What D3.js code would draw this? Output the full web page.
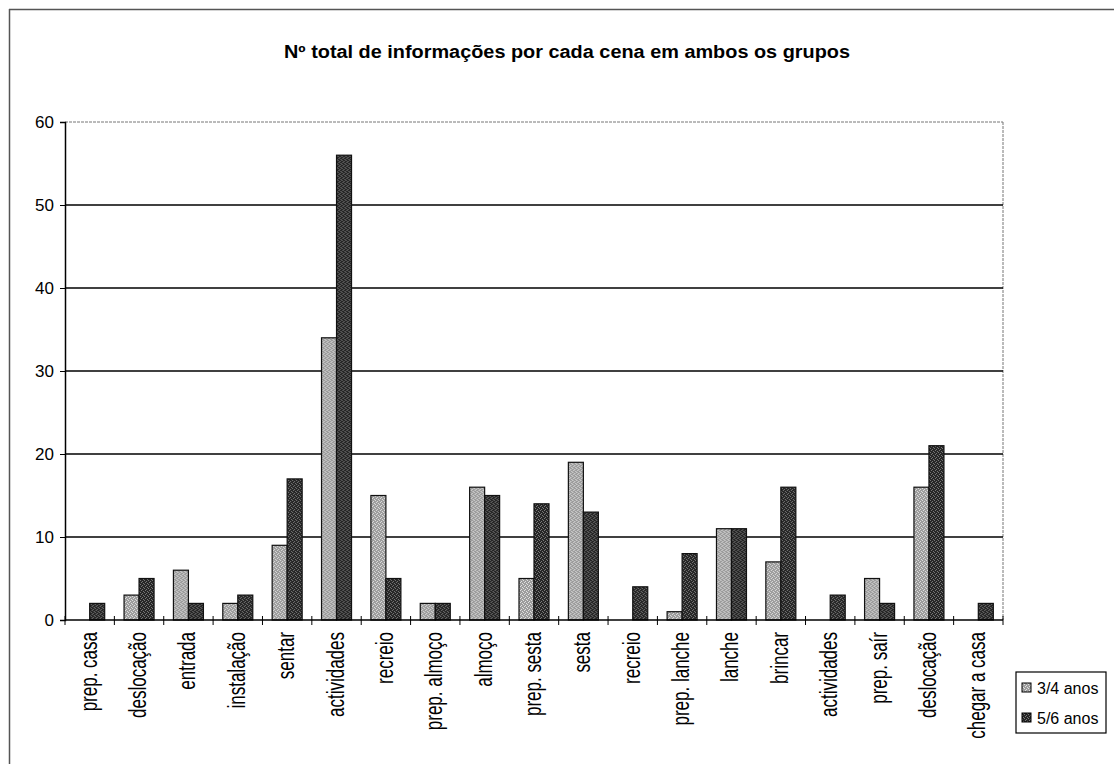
<!DOCTYPE html>
<html lang="pt">
<head>
<meta charset="UTF-8">
<title>Nº total de informações por cada cena</title>
<script src="https://d3js.org/d3.v7.min.js"></script>
<style>
  body { margin: 0; padding: 0; background: #fff; }
  svg { display: block; font-family: "Liberation Sans", Arial, sans-serif; }
</style>
</head>
<body>
<div id="chart"></div>
<script>
// Dados
const cenas = ["prep. casa", "deslocação", "entrada", "instalação", "sentar", "actividades",
  "recreio", "prep. almoço", "almoço", "prep. sesta", "sesta", "recreio", "prep. lanche",
  "lanche", "brincar", "actividades", "prep. saír", "deslocação", "chegar a casa"];
const grupos = ["3/4 anos", "5/6 anos"];
const valores34 = [0, 3, 6, 2, 9, 34, 15, 2, 16, 5, 19, 0, 1, 11, 7, 0, 5, 16, 0];
const valores56 = [2, 5, 2, 3, 17, 56, 5, 2, 15, 14, 13, 4, 8, 11, 16, 3, 2, 21, 2];
const yTicks = [0, 10, 20, 30, 40, 50, 60];

const width = 1114, height = 764;
const plot = { left: 65, right: 1003, top: 122, bottom: 620 };

const svg = d3.select("#chart").append("svg")
  .attr("width", width)
  .attr("height", height);

// Padrões pontilhados (imitam o tracejado do Excel)
const defs = svg.append("defs");
function stipple(id, bg, dot) {
  const p = defs.append("pattern")
    .attr("id", id)
    .attr("width", 4).attr("height", 4)
    .attr("patternUnits", "userSpaceOnUse");
  p.append("rect").attr("width", 4).attr("height", 4).attr("fill", bg);
  [[0, 0], [2, 1], [1, 2], [3, 3]].forEach(([x, y]) => {
    p.append("rect").attr("x", x).attr("y", y).attr("width", 1).attr("height", 1).attr("fill", dot);
  });
}
stipple("pat34", "#9c9c9c", "#e0e0e0");
stipple("pat56", "#262626", "#7a7a7a");

// Moldura exterior (só topo e esquerda visíveis)
svg.append("line").attr("x1", 9).attr("x2", width).attr("y1", 9.5).attr("y2", 9.5)
  .attr("stroke", "#555").attr("stroke-width", 1.5);
svg.append("line").attr("x1", 9.5).attr("x2", 9.5).attr("y1", 9).attr("y2", height)
  .attr("stroke", "#555").attr("stroke-width", 1.5);

// Título
svg.append("text")
  .attr("x", 567).attr("y", 58)
  .attr("text-anchor", "middle")
  .attr("font-size", "18px")
  .attr("font-weight", "bold")
  .attr("textLength", 566)
  .attr("lengthAdjust", "spacingAndGlyphs")
  .text("Nº total de informações por cada cena em ambos os grupos");

// Escalas
const x = d3.scaleBand()
  .domain(d3.range(cenas.length))
  .range([plot.left, plot.right]);
const x1 = d3.scaleBand()
  .domain(grupos)
  .range([0, 30])
  .padding(0);
const y = d3.scaleLinear()
  .domain([0, 60])
  .range([plot.bottom, plot.top]);

// Borda da área do gráfico (topo e direita, pontilhada)
svg.append("line").attr("x1", plot.left).attr("x2", plot.right)
  .attr("y1", plot.top).attr("y2", plot.top)
  .attr("stroke", "#777").attr("stroke-dasharray", "3,1");
svg.append("line").attr("x1", plot.right).attr("x2", plot.right)
  .attr("y1", plot.top).attr("y2", plot.bottom)
  .attr("stroke", "#777").attr("stroke-dasharray", "3,1");

// Linhas de grelha
svg.append("g")
  .selectAll("line")
  .data(yTicks.filter(d => d > 0 && d < 60))
  .enter()
  .append("line")
  .attr("x1", plot.left).attr("x2", plot.right)
  .attr("y1", d => y(d)).attr("y2", d => y(d))
  .attr("stroke", "#000").attr("stroke-width", 1.5);

// Eixo Y
const yAxis = svg.append("g")
  .attr("transform", `translate(${plot.left},0)`)
  .call(d3.axisLeft(y).tickValues(yTicks).tickSize(5).tickPadding(6));
yAxis.select(".domain").attr("stroke", "#000").attr("stroke-width", 1.5);
yAxis.selectAll(".tick line").attr("stroke", "#000");
yAxis.selectAll("text").attr("font-size", "17px").attr("fill", "#000")
  .attr("font-family", "'Liberation Sans', Arial, sans-serif");

// Barras
const dados = cenas.map((c, i) => ({ i, v: [valores34[i], valores56[i]] }));
const grp = svg.append("g")
  .selectAll("g")
  .data(dados)
  .enter()
  .append("g")
  .attr("transform", d => `translate(${x(d.i) + (x.bandwidth() - 30) / 2},0)`);

grp.selectAll("rect")
  .data(d => d.v.map((v, k) => ({ g: grupos[k], v })))
  .enter()
  .filter(d => d.v > 0)
  .append("rect")
  .attr("x", d => x1(d.g))
  .attr("y", d => y(d.v))
  .attr("width", x1.bandwidth())
  .attr("height", d => y(0) - y(d.v))
  .attr("fill", d => d.g === grupos[0] ? "url(#pat34)" : "url(#pat56)")
  .attr("stroke", "#111")
  .attr("stroke-width", 1.2);

// Eixo X
const xAxis = svg.append("g")
  .attr("transform", `translate(0,${plot.bottom})`);
xAxis.append("line")
  .attr("x1", plot.left).attr("x2", plot.right)
  .attr("stroke", "#000").attr("stroke-width", 1.5);
xAxis.selectAll("line.tk")
  .data(d3.range(cenas.length + 1))
  .enter()
  .append("line")
  .attr("class", "tk")
  .attr("x1", d => plot.left + d * x.step())
  .attr("x2", d => plot.left + d * x.step())
  .attr("y1", -4).attr("y2", 5)
  .attr("stroke", "#000");

// Rótulos das categorias (verticais, letra alta e estreita como no original)
svg.append("g")
  .selectAll("text")
  .data(cenas)
  .enter()
  .append("text")
  .attr("transform", (d, i) => `translate(${x(i) + x.bandwidth() / 2 + 7},632) rotate(-90) scale(1,1.4)`)
  .attr("text-anchor", "end")
  .attr("font-size", "17px")
  .attr("fill", "#000")
  .text(d => d);

// Legenda
const leg = svg.append("g").attr("transform", "translate(1016,672)");
leg.append("rect")
  .attr("width", 90).attr("height", 61)
  .attr("fill", "#fff").attr("stroke", "#000").attr("stroke-width", 1.2);
grupos.forEach((gname, k) => {
  const row = leg.append("g").attr("transform", `translate(0,${16 + k * 30})`);
  row.append("rect")
    .attr("x", 6).attr("y", -5)
    .attr("width", 9).attr("height", 9)
    .attr("fill", k === 0 ? "url(#pat34)" : "url(#pat56)")
    .attr("stroke", "#000");
  row.append("text")
    .attr("x", 21).attr("y", 6)
    .attr("font-size", "16px")
    .attr("fill", "#000")
    .text(gname);
});
</script>
</body>
</html>
